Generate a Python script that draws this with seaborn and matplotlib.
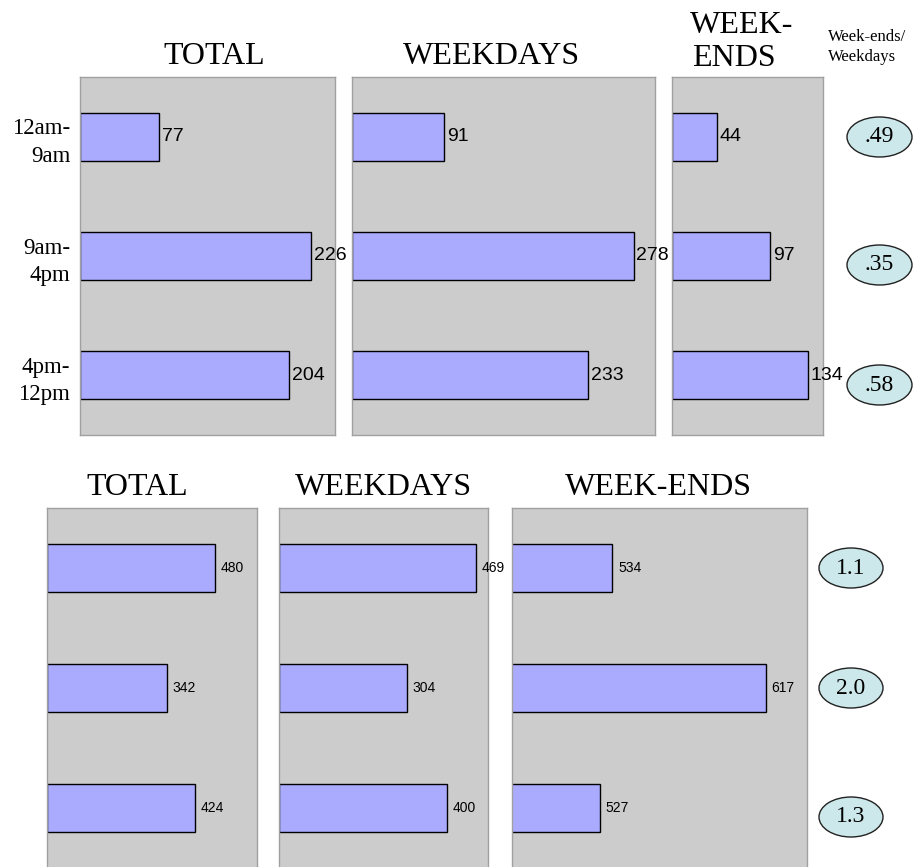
import matplotlib
matplotlib.use("Agg")
import matplotlib.pyplot as plt
from matplotlib.patches import Ellipse
import seaborn as sns
import pandas as pd

# Time-of-day bands and panel titles
periods = ["12am-\n9am", "9am-\n4pm", "4pm-\n12pm"]
panel_titles = ["TOTAL", "WEEKDAYS", "WEEK-ENDS"]

# Upper block
top_total = [77, 226, 204]
top_weekdays = [91, 278, 233]
top_weekends = [44, 97, 134]
top_ratio = [".49", ".35", ".58"]

# Lower block
bottom_total = [480, 342, 424]
bottom_weekdays = [469, 304, 400]
bottom_weekends = [534, 617, 527]
bottom_ratio = ["1.1", "2.0", "1.3"]

W, H = 915, 867
fig = plt.figure(figsize=(W / 100, H / 100), dpi=100)

SERIF = "Liberation Serif"
SANS = "Liberation Sans"
PANEL = "#cccccc"
BAR = "#aaaaff"
OVAL = "#cce8ea"


def fx(x):
    return x / W


def fy(y):
    return 1 - y / H


def panel(x0, y0, x1, y1, values, xlim, label_size, pad, show_periods=False):
    ax = fig.add_axes([fx(x0), fy(y1), (x1 - x0) / W, (y1 - y0) / H])
    df = pd.DataFrame({"period": periods, "value": values})
    sns.barplot(data=df, x="value", y="period", orient="h", ax=ax,
                color=BAR, saturation=1, edgecolor="black", linewidth=1,
                width=0.4)
    ax.set_facecolor(PANEL)
    ax.set_xlim(*xlim)
    ax.set_ylim(2.5, -0.5)
    ax.set_xticks([])
    ax.set_xlabel("")
    ax.set_ylabel("")
    if show_periods:
        ax.tick_params(axis="y", length=0, pad=7)
        for t in ax.get_yticklabels():
            t.set_fontfamily(SERIF)
            t.set_fontsize(16.5)
            t.set_linespacing(1.4)
    else:
        ax.set_yticks([])
    for s in ax.spines.values():
        s.set_color("#a0a0a0")
        s.set_linewidth(1)
    ax.bar_label(ax.containers[0], labels=[str(v) for v in values],
                 padding=pad, fontsize=label_size, family=SANS)
    return ax


# Upper row of panels
panel(80, 77, 335, 435, top_total, (0, 249), 14, 2, show_periods=True)
panel(352, 77, 655, 435, top_weekdays, (0, 299), 14, 2)
panel(672, 77, 823, 435, top_weekends, (0, 149), 14, 2)

# Lower row of panels
panel(47, 508, 257, 868, bottom_total, (0, 600), 10, 4)
panel(279, 508, 488, 868, bottom_weekdays, (0, 497), 10, 4)
panel(512, 508, 807, 868, bottom_weekends, (479.5, 639.5), 10, 4)

# Titles
def title(x, y, s, ha="center", size=23):
    fig.text(fx(x), fy(y), s, ha=ha, va="baseline", family=SERIF, size=size)


title(214, 64, panel_titles[0])
title(491, 64, panel_titles[1])
title(690, 33, "WEEK-", ha="left")
title(692, 66, "ENDS", ha="left")
title(828, 41, "Week-ends/", ha="left", size=12)
title(828, 61, "Weekdays", ha="left", size=12)

title(137, 495, panel_titles[0])
title(383, 495, panel_titles[1])
title(658, 495, panel_titles[2])

# Week-end / weekday ratio ovals
def ovals(cx, ys, labels, w=65, h=40):
    for y, lab in zip(ys, labels):
        e = Ellipse((fx(cx), fy(y)), w / W, h / H, transform=fig.transFigure,
                    facecolor=OVAL, edgecolor="#222222", linewidth=1)
        fig.add_artist(e)
        fig.text(fx(cx), fy(y), lab, ha="center", va="center",
                 family=SERIF, size=17)


ovals(879.5, [137, 265, 385], top_ratio)
ovals(851, [568, 688, 817], bottom_ratio, w=64)

fig.savefig("out.png", dpi=100)
